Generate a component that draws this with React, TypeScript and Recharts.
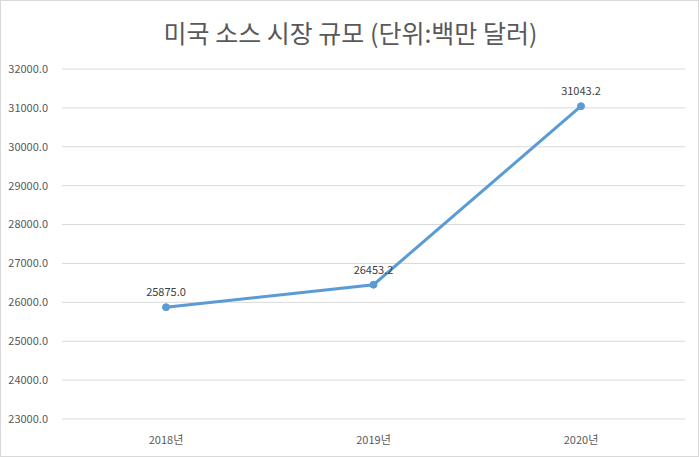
import React from 'react'
import { LineChart, Line, XAxis, YAxis, CartesianGrid, LabelList } from 'recharts'

const years = ['2018년', '2019년', '2020년']
const marketSize = [25875.0, 26453.2, 31043.2]
const yTicks = [23000, 24000, 25000, 26000, 27000, 28000, 29000, 30000, 31000, 32000]

const data = years.map((year, i) => ({ year, value: marketSize[i] }))

const FONT = '"Noto Sans CJK KR", "Noto Sans", sans-serif'

export default function App() {
  return (
    <div
      style={{
        position: 'absolute',
        left: 0,
        top: 0,
        width: 699,
        height: 457,
        boxSizing: 'border-box',
        border: '1px solid #d9d9d9',
        background: '#fff',
        fontFamily: FONT,
      }}
    >
      <div
        style={{
          position: 'absolute',
          top: 13,
          left: 0,
          width: 699,
          textAlign: 'center',
          fontSize: 25,
          color: '#595959',
        }}
      >
        미국 소스 시장 규모 (단위:백만 달러)
      </div>
      <div style={{ position: 'absolute', left: -1, top: -1 }}>
        <LineChart
          width={699}
          height={457}
          data={data}
          margin={{ top: 69, right: 14, bottom: 8, left: 0 }}
        >
          <CartesianGrid vertical={false} stroke="#d9d9d9" />
          <XAxis
            dataKey="year"
            height={30}
            padding={{ left: 104, right: 104 }}
            axisLine={false}
            tickLine={false}
            tickSize={0}
            tickMargin={17}
            tick={{ fontSize: 11, fill: '#595959', fontFamily: FONT }}
          />
          <YAxis
            width={62}
            domain={[23000, 32000]}
            ticks={yTicks}
            axisLine={false}
            tickLine={false}
            tickSize={0}
            tickMargin={14}
            tickFormatter={(v: number) => v.toFixed(1)}
            tick={{ fontSize: 11, fill: '#595959', fontFamily: FONT }}
          />
          <Line
            type="linear"
            dataKey="value"
            stroke="#5b9bd5"
            strokeWidth={3}
            dot={{ r: 3.5, fill: '#5b9bd5', stroke: '#5b9bd5', strokeWidth: 1 }}
            isAnimationActive={false}
          >
            <LabelList
              dataKey="value"
              position="top"
              offset={11}
              formatter={(v: number) => v.toFixed(1)}
              style={{ fontSize: 11, fill: '#404040', fontFamily: FONT }}
            />
          </Line>
        </LineChart>
      </div>
    </div>
  )
}
